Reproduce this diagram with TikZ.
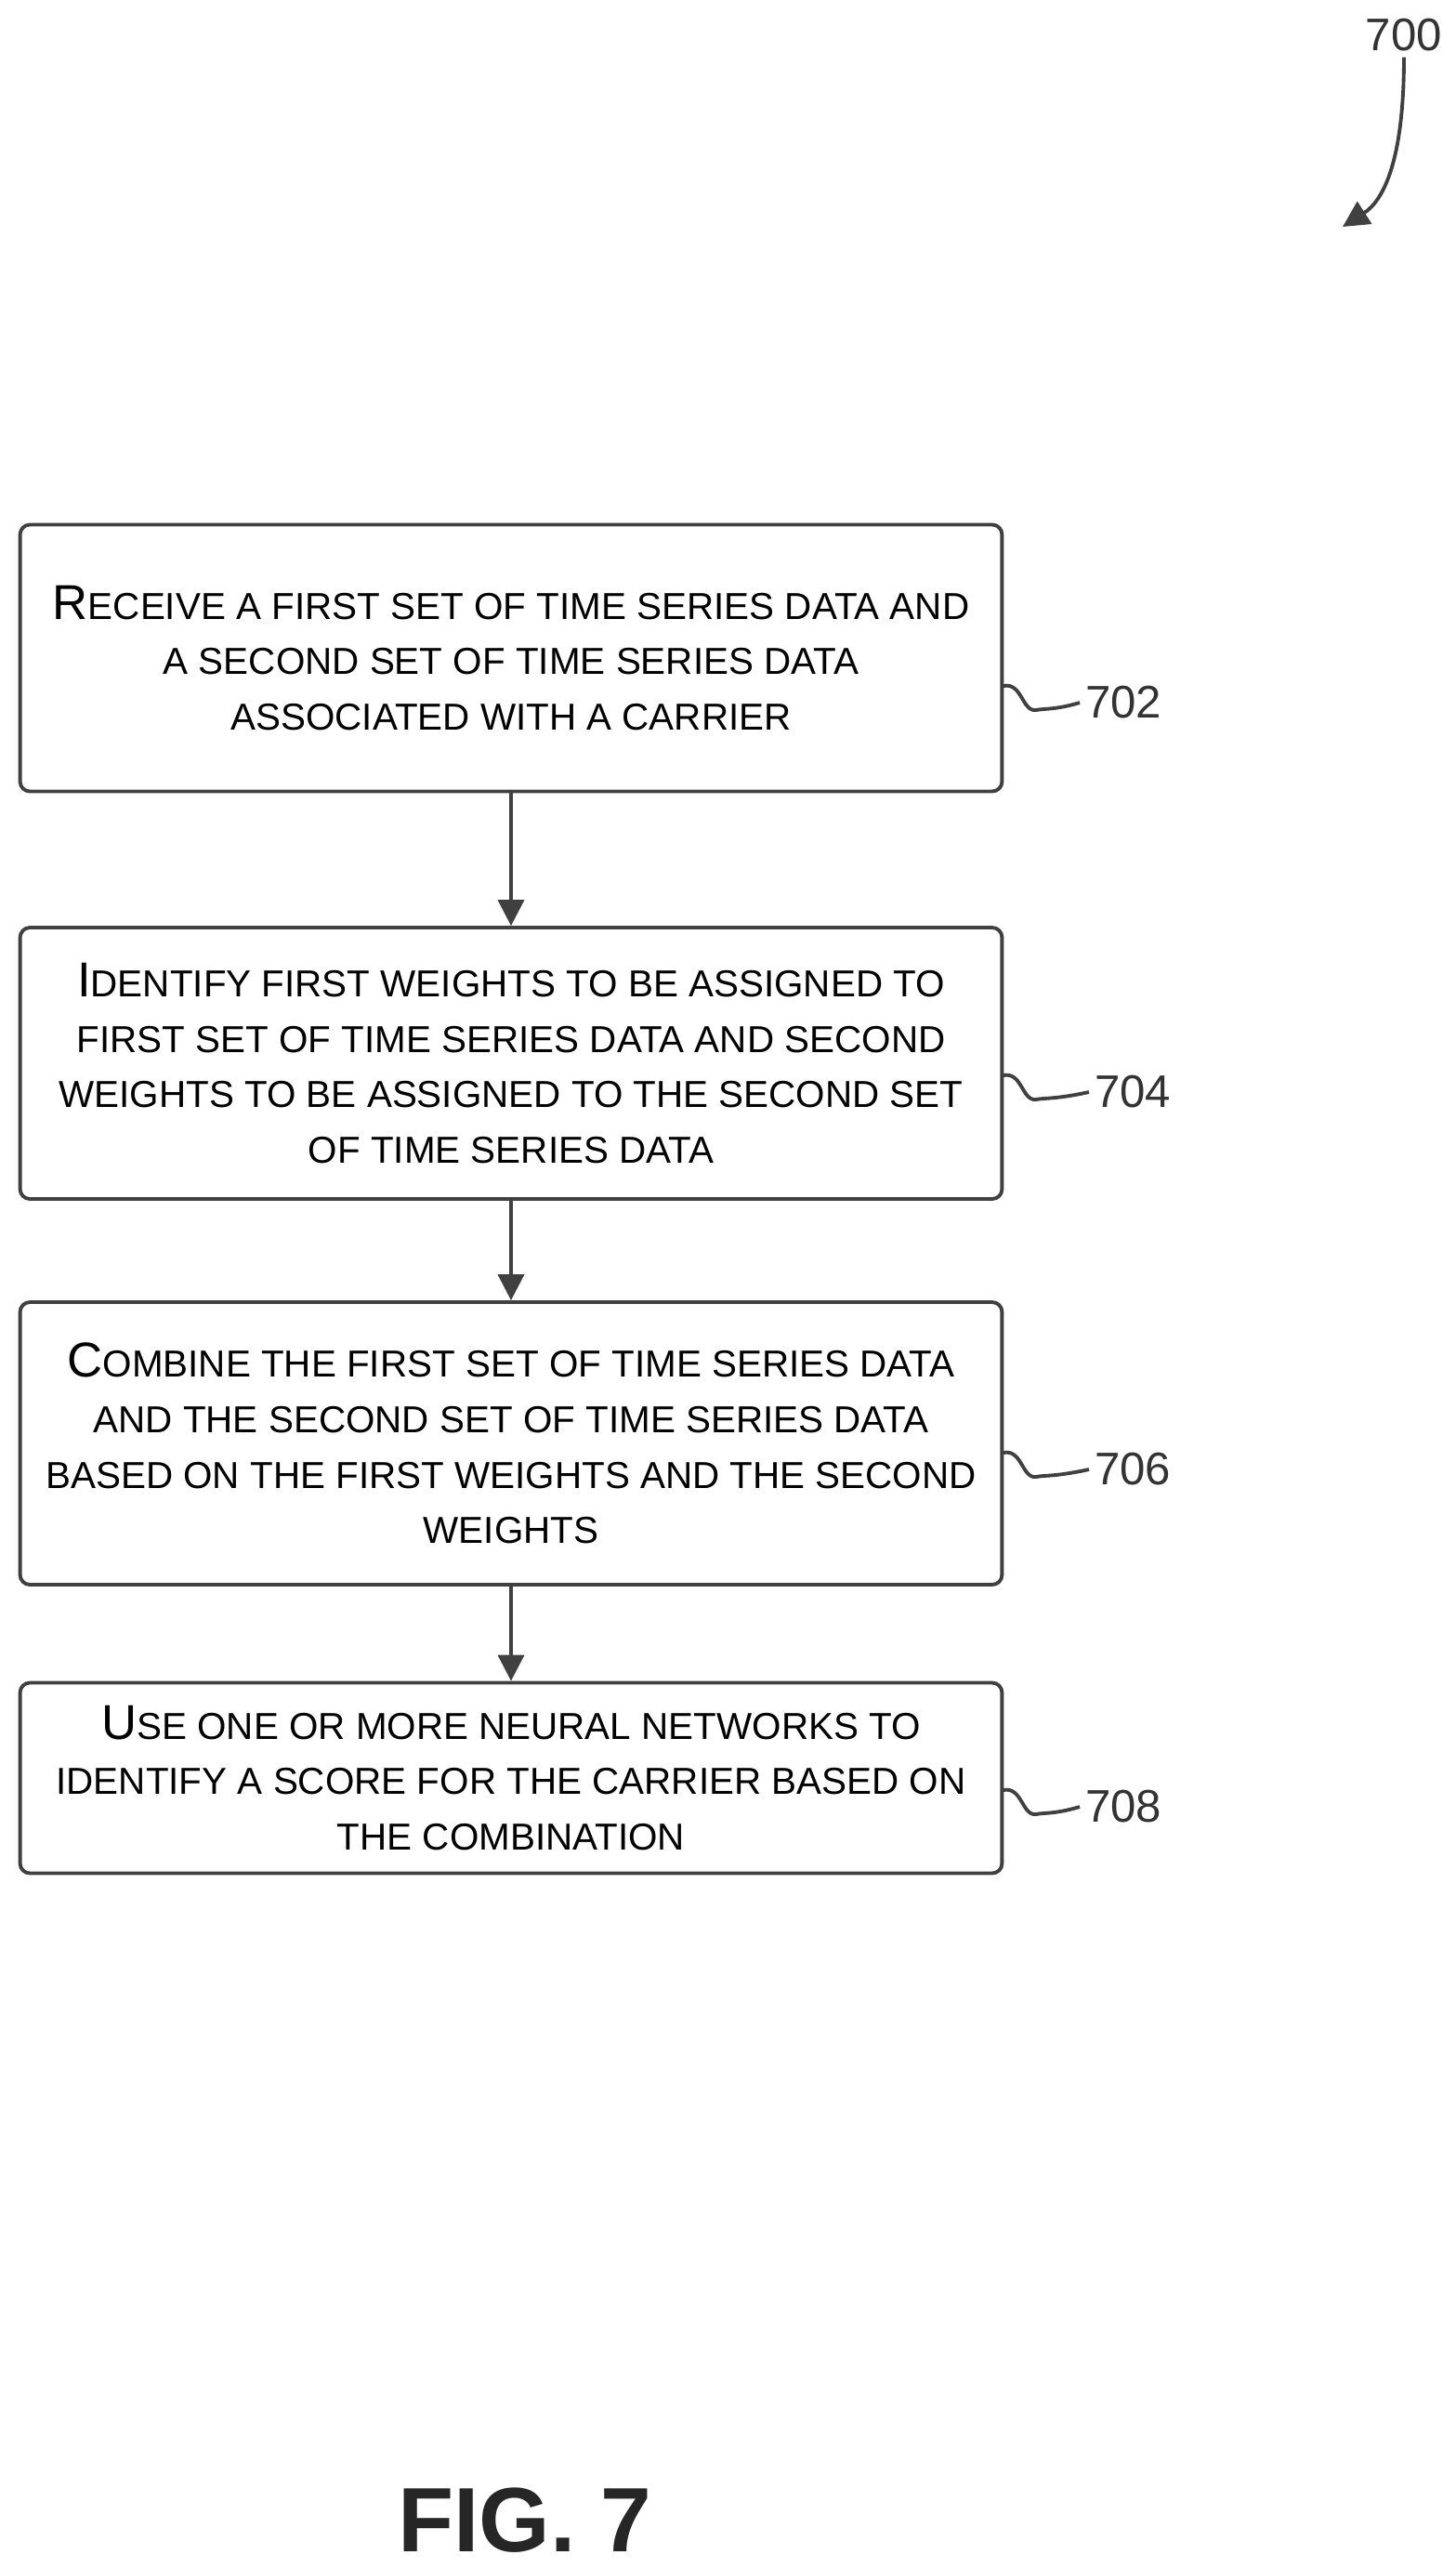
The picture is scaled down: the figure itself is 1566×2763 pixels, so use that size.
\documentclass[tikz,border=0pt]{standalone}
\usepackage{fontspec}
\setmainfont{Liberation Sans}
\usetikzlibrary{arrows.meta}
\newcommand{\SCx}[1]{{\fontsize{23}{34}\selectfont\MakeUppercase{#1}}}
\tikzset{
  box/.style={draw=black!75, line width=2.2pt, rounded corners=6pt, minimum width=21.14cm, align=center, font=\fontsize{30}{34}\selectfont, inner sep=0pt},
  conn/.style={draw=black!75, line width=2.2pt, -{Triangle[length=16pt,width=16pt]}},
  sq/.style={draw=black!75, line width=2.2pt},
  lbl/.style={font=\fontsize{28}{34}\selectfont, anchor=west, text=black!80}
}
\begin{document}
\begin{tikzpicture}[x=0.02cm,y=-0.02cm]
\useasboundingbox (0,0) rectangle (1566,2763);
\node[box, minimum height=5.74cm] (b1) at (550,708) {R\SCx{eceive a first set of time series data and}\\\SCx{a second set of time series data}\\\SCx{associated with a carrier}};
\node[box, minimum height=5.84cm] (b2) at (550,1144) {I\SCx{dentify first weights to be assigned to}\\\SCx{first set of time series data and second}\\\SCx{weights to be assigned to the second set}\\\SCx{of time series data}};
\node[box, minimum height=6.08cm] (b3) at (550,1553) {C\SCx{ombine the first set of time series data}\\\SCx{and the second set of time series data}\\\SCx{based on the first weights and the second}\\\SCx{weights}};
\node[box, minimum height=4.1cm] (b4) at (550,1913) {U\SCx{se one or more neural networks to}\\\SCx{identify a score for the carrier based on}\\\SCx{the combination}};
\draw[conn] (b1.south) -- (b2.north);
\draw[conn] (b2.south) -- (b3.north);
\draw[conn] (b3.south) -- (b4.north);
\node[lbl] (l1) at (1162,756) {702};
\node[lbl] (l2) at (1172,1175) {704};
\node[lbl] (l3) at (1172,1581) {706};
\node[lbl] (l4) at (1162,1944) {708};
\foreach \b/\l/\y in {b1/l1/756, b2/l2/1175, b3/l3/1581, b4/l4/1944}{
  \draw[sq] (1080,\y-18) .. controls (1100,\y-22) and (1100,\y+10) .. (1115,\y+8) .. controls (1125,\y+6) and (1135,\y+8) .. (\l.west);
}
\node[font=\fontsize{28}{34}\selectfont, text=black!80] (l700) at (1511,38) {700};
\coordinate (t700) at (1445,244);
\draw[conn] (l700.south) .. controls (1511,170) and (1490,215) .. (t700);
\node[font=\bfseries\fontsize{56}{60}\selectfont, text=black!85] (fig) at (565,2712) {FIG. 7};
\end{tikzpicture}
\end{document}
